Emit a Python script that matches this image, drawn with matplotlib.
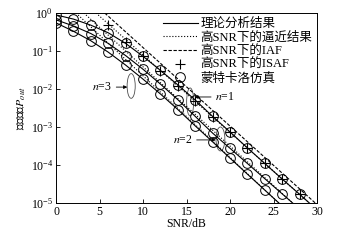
import numpy as np
import matplotlib
matplotlib.use('Agg')
import matplotlib.pyplot as plt
from matplotlib.lines import Line2D
from matplotlib.patches import Ellipse
from matplotlib.ticker import NullLocator

plt.rcParams['font.family'] = ['Liberation Serif', 'Noto Sans CJK SC']
plt.rcParams['mathtext.fontset'] = 'stix'

# SNR grid (dB) of the simulation points
snr = [0, 2, 4, 6, 8, 10, 12, 14, 16, 18, 20, 22, 24, 26, 28, 30]

# log10 of outage probability, theory / Monte Carlo
n1_exp = [-0.05, -0.16, -0.32, -0.52, -0.80, -1.14, -1.51, -1.89, -2.29, -2.72,
          -3.13, -3.55, -3.96, -4.37, -4.77, -5.18]
n2_exp = [-0.18, -0.34, -0.54, -0.80, -1.12, -1.48, -1.87, -2.28, -2.72, -3.16,
          -3.56, -3.96, -4.36, -4.76, -5.16]
n3_exp = [-0.26, -0.48, -0.73, -1.03, -1.37, -1.74, -2.13, -2.54, -2.97, -3.39,
          -3.82, -4.24, -4.66, -5.08]

# high SNR approximation (dotted), end points of the straight lines
asym_n1_x, asym_n1_exp = [4.6, 29.1], [0.0, -5.0]
asym_n2_x, asym_n2_exp = [3.2, 27.2], [0.0, -5.0]
asym_n3_x, asym_n3_exp = [2.3, 25.6], [0.0, -5.0]

# IAF (dashed) for n=1
iaf_x, iaf_exp = [5.6, 29.8], [0.0, -5.0]

# ISAF markers for n=1
isaf_x = [6, 8, 10, 12, 14, 16, 18, 20, 22, 24, 26, 28]
isaf_exp = [-0.32, -0.76, -1.14, -1.53, -1.92, -2.31, -2.73, -3.14, -3.55, -3.96,
            -4.37, -4.77]

# number of Monte Carlo circles on each curve
n_sim = [15, 14, 13]

fig = plt.figure(figsize=(3.51, 2.40), dpi=100)
ax = fig.add_axes([56/351, 37/240, 261/351, 190/240])

lw = 0.8
for exps, ns in zip([n1_exp, n2_exp, n3_exp], n_sim):
    x = snr[:len(exps)]
    y = 10**np.array(exps)
    ax.plot(x, y, '-', color='k', lw=lw)
    ax.plot(x[:ns], y[:ns], 'o', ms=7, mfc='none', mec='k', mew=0.7)

for xs, es in [(asym_n1_x, asym_n1_exp), (asym_n2_x, asym_n2_exp), (asym_n3_x, asym_n3_exp)]:
    ax.plot(xs, 10**np.array(es), ':', color='k', lw=lw)

ax.plot(iaf_x, 10**np.array(iaf_exp), '--', color='k', lw=lw, dashes=(3, 1.5))
ax.plot(isaf_x, 10**np.array(isaf_exp), '+', color='k', ms=7, mew=0.8)

ax.set_yscale('log')
ax.set_xlim(0, 30)
ax.set_ylim(1e-5, 1)
ax.set_xticks([0, 5, 10, 15, 20, 25, 30])
ax.yaxis.set_minor_locator(NullLocator())
ax.tick_params(direction='in', length=3, width=0.6, labelsize=8.5, pad=2)
for s in ax.spines.values():
    s.set_linewidth(0.7)

ax.set_xlabel('SNR/dB', fontsize=8.5, labelpad=0)
ax.set_ylabel('中断概率$P_{out}$', fontsize=8.5, labelpad=2)

handles = [
    Line2D([], [], color='k', lw=lw, ls='-'),
    Line2D([], [], color='k', lw=lw, ls=':'),
    Line2D([], [], color='k', lw=lw, ls='--', dashes=(3, 1.5)),
    Line2D([], [], color='k', ls='none', marker='+', ms=7, mew=0.8),
    Line2D([], [], color='k', ls='none', marker='o', ms=7, mfc='none', mew=0.7),
]
labels = ['理论分析结果', '高SNR下的逼近结果', '高SNR下的IAF', '高SNR下的ISAF', '蒙特卡洛仿真']
ax.legend(handles, labels, loc='upper right', bbox_to_anchor=(1.0, 1.0), frameon=False,
          fontsize=9, handlelength=2.8, handletextpad=0.2, labelspacing=0.12,
          borderaxespad=0.2, borderpad=0.2)

arrow = dict(arrowstyle='-|>', lw=0.6, color='k', mutation_scale=5, shrinkA=1, shrinkB=0)
ax.annotate('$n$=3', xy=(0.273, 0.61), xytext=(0.215, 0.61), xycoords='axes fraction',
            ha='right', va='center', fontsize=8.5, arrowprops=arrow)
ax.annotate('$n$=2', xy=(0.612, 0.332), xytext=(0.523, 0.332), xycoords='axes fraction',
            ha='right', va='center', fontsize=8.5, arrowprops=arrow)
ax.annotate('$n$=1', xy=(0.53, 0.558), xytext=(0.61, 0.558), xycoords='axes fraction',
            ha='left', va='center', fontsize=8.5, arrowprops=arrow)

for cx, cy, w, h in [(0.288, 0.616, 0.031, 0.13), (0.630, 0.337, 0.034, 0.126),
                     (0.514, 0.532, 0.027, 0.147)]:
    ax.add_patch(Ellipse((cx, cy), w, h, transform=ax.transAxes, fill=False,
                         lw=0.6, ec='0.3'))

fig.savefig('out.png', dpi=100)
